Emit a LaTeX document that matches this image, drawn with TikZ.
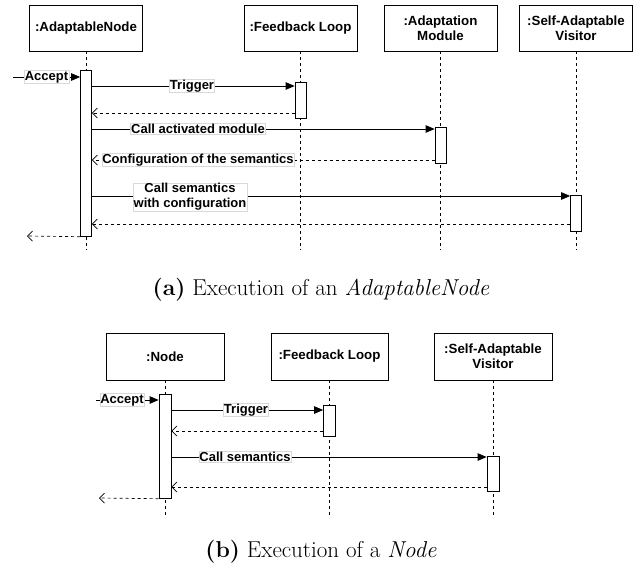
\documentclass[tikz,border=0pt]{standalone}
\usepackage{fontspec}
\newfontfamily\dfont{Liberation Sans}
\usetikzlibrary{arrows.meta}
\begin{document}
\begin{tikzpicture}[x=1pt,y=-1pt,
  hdr/.style={draw, line width=0.8pt, minimum width=113pt, minimum height=46pt, inner sep=1pt, align=center,
    font=\dfont\bfseries\fontsize{13.3}{15}\selectfont},
  lifeline/.style={line width=0.7pt, dash pattern=on 3pt off 3pt},
  act/.style={draw, fill=white, line width=0.7pt, minimum width=11pt, anchor=north, inner sep=0pt},
  call/.style={-{Triangle[length=9pt,width=7.5pt]}, line width=0.8pt},
  ret/.style={-{Straight Barb[length=5pt,width=10pt]}, line width=0.7pt, dash pattern=on 3pt off 3pt},
  lbl/.style={fill=white, draw=black!15, line width=0.4pt, inner sep=0.6pt, align=center,
    font=\dfont\bfseries\fontsize{13}{15}\selectfont},
  capt/.style={anchor=base, inner sep=0pt, font=\fontsize{23}{26}\selectfont}]
\useasboundingbox (0,0) rectangle (638,574);

% ---------- (a) ----------
\node[hdr] (AN) at (86,28) {:AdaptableNode};
\node[hdr] (FL) at (300.5,28) {:Feedback Loop};
\node[hdr] (AM) at (440.5,28) {:Adaptation\\Module};
\node[hdr] (SV) at (576,28) {:Self-Adaptable\\Visitor};

\coordinate (ANe) at (86,250);
\coordinate (FLe) at (300.5,250);
\coordinate (AMe) at (440.5,250);
\coordinate (SVe) at (576,250);
\draw[lifeline] (AN.south) -- (ANe);
\draw[lifeline] (FL.south) -- (FLe);
\draw[lifeline] (AM.south) -- (AMe);
\draw[lifeline] (SV.south) -- (SVe);

\node[act, minimum height=166pt] (aAN) at (86,70) {};
\node[act, minimum height=36pt] (aFL) at (300.5,82) {};
\node[act, minimum height=36pt] (aAM) at (440.5,127) {};
\node[act, minimum height=36pt] (aSV) at (576,195) {};

\coordinate (accA) at (13,77);
\coordinate (endA) at (27,236);

\draw[call] (accA) -- (aAN.west |- 0,77);
\node[lbl] (lAccA) at (46.5,77) {Accept};
\draw[call] (aAN.east |- 0,86) -- (aFL.west |- 0,86);
\node[lbl] (lTrigA) at (192,86) {Trigger};
\draw[ret] (aFL.west |- 0,113) -- (aAN.east |- 0,113);
\draw[call] (aAN.east |- 0,129) -- (aAM.west |- 0,129);
\node[lbl] (lCAM) at (198,129) {Call activated module};
\draw[ret] (aAM.west |- 0,160) -- (aAN.east |- 0,160);
\node[lbl] (lConf) at (198,160) {Configuration of the semantics};
\draw[call] (aAN.east |- 0,196) -- (aSV.west |- 0,196);
\node[lbl] (lCSA) at (190,197) {Call semantics\\with configuration};
\draw[ret] (aSV.west |- 0,224) -- (aAN.east |- 0,224);
\draw[ret] (aAN.south west) -- (endA);

\node[capt] (capA) at (321,295) {\textbf{(a)} Execution of an \textit{AdaptableNode}};

% ---------- (b) ----------
\node[hdr, minimum width=118pt, minimum height=47pt] (N) at (165,356.5) {:Node};
\node[hdr, minimum width=117pt, minimum height=47pt] (FLb) at (329.5,356.5) {:Feedback Loop};
\node[hdr, minimum width=118pt, minimum height=47pt] (SVb) at (493,356.5) {:Self-Adaptable\\Visitor};

\coordinate (Ne) at (165,518);
\coordinate (FLbe) at (329.5,518);
\coordinate (SVbe) at (493,518);
\draw[lifeline] (N.south) -- (Ne);
\draw[lifeline] (FLb.south) -- (FLbe);
\draw[lifeline] (SVb.south) -- (SVbe);

\node[act, minimum width=12pt, minimum height=104pt] (aN) at (165,394) {};
\node[act, minimum width=12pt, minimum height=31pt] (aF) at (329.5,405) {};
\node[act, minimum width=12pt, minimum height=35pt] (aS) at (493,456) {};

\coordinate (accB) at (96,400);
\coordinate (endB) at (99,498);

\draw[call] (accB) -- (aN.west |- 0,400);
\node[lbl] (lAccB) at (122,400) {Accept};
\draw[call] (aN.east |- 0,410) -- (aF.west |- 0,410);
\node[lbl] (lTrigB) at (246,410) {Trigger};
\draw[ret] (aF.west |- 0,431) -- (aN.east |- 0,431);
\draw[call] (aN.east |- 0,457) -- (aS.west |- 0,457);
\node[lbl] (lCS) at (245,457) {Call semantics};
\draw[ret] (aS.west |- 0,487) -- (aN.east |- 0,487);
\draw[ret] (aN.south west) -- (endB);

\node[capt] (capB) at (321,557) {\textbf{(b)} Execution of a \textit{Node}};
\end{tikzpicture}
\end{document}
